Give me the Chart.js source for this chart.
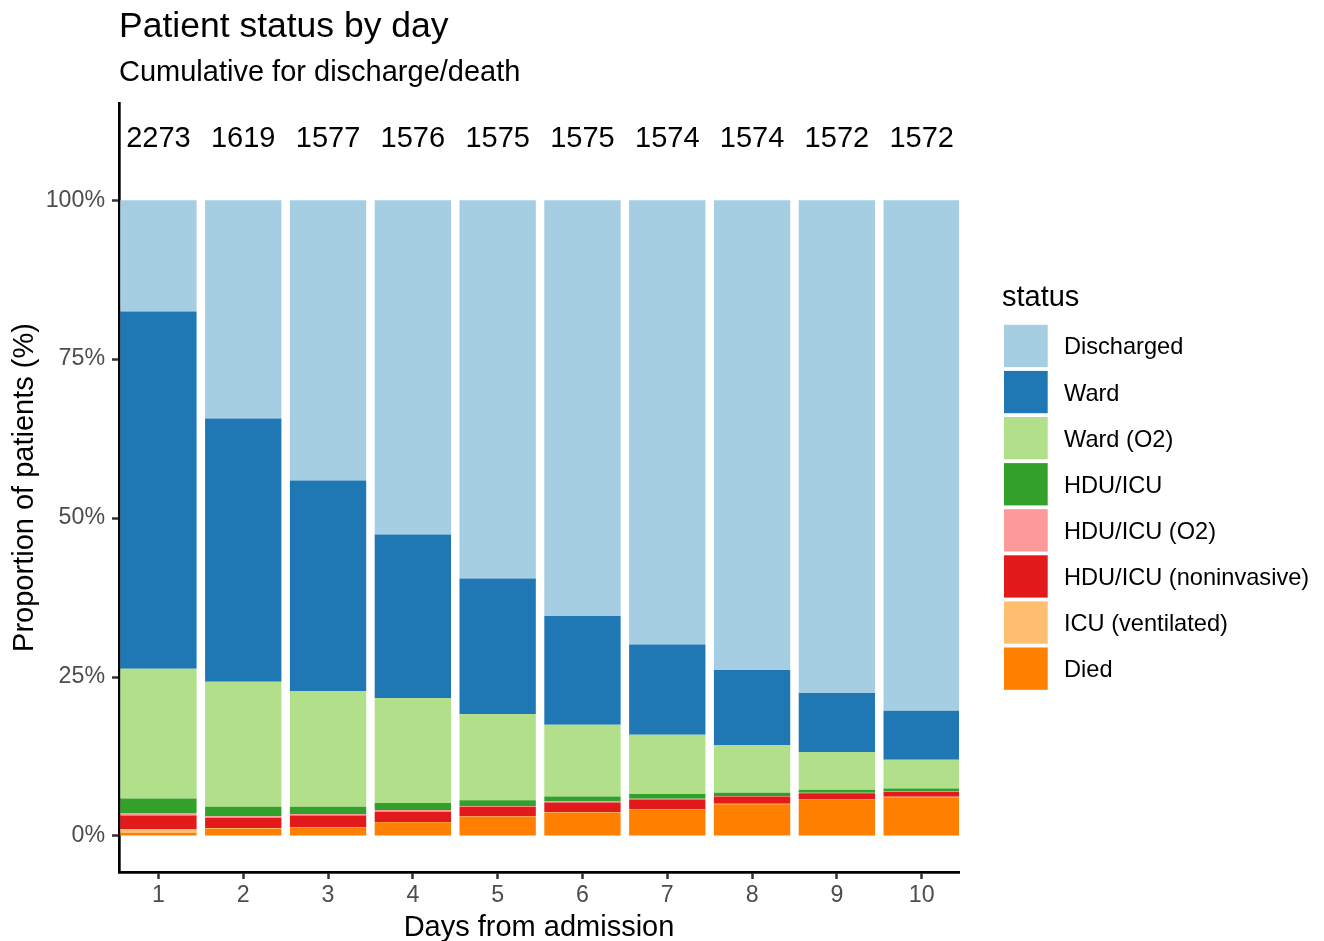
<!DOCTYPE html>
<html>
<head>
<meta charset="utf-8">
<script src="https://cdn.jsdelivr.net/npm/chart.js@4"></script>
<style>
  html, body { margin: 0; padding: 0; background: #ffffff; }
  #wrap { width: 1324px; height: 941px; position: relative; }
</style>
</head>
<body>
<div id="wrap"><canvas id="c" width="1324" height="941"></canvas></div>
<script>
// ---- data (percent of patients) ----
const days = [1, 2, 3, 4, 5, 6, 7, 8, 9, 10];
const counts = [2273, 1619, 1577, 1576, 1575, 1575, 1574, 1574, 1572, 1572];
const yTicks = [0, 25, 50, 75, 100];

const died          = [0.5, 1.15, 1.35, 2.15, 3.05, 3.7, 4.2, 5.0, 5.7, 6.1];
const icuVentilated = [0.6, 0.1, 0.05, 0.05, 0.05, 0.05, 0.05, 0.05, 0.05, 0.05];
const hduNoninv     = [2.1, 1.6, 1.8, 1.6, 1.5, 1.5, 1.5, 1.15, 0.95, 0.8];
const hduO2         = [0.4, 0.25, 0.25, 0.3, 0.1, 0.15, 0.1, 0.1, 0.1, 0.1];
const hduIcu        = [2.3, 1.5, 1.15, 1.1, 0.9, 0.8, 0.75, 0.5, 0.45, 0.4];
const wardO2        = [20.4, 19.65, 18.2, 16.5, 13.6, 11.3, 9.3, 7.5, 5.95, 4.55];
const ward          = [56.2, 41.4, 33.1, 25.7, 21.3, 17.1, 14.2, 11.8, 9.3, 7.7];
const discharged    = [17.5, 34.35, 44.1, 52.6, 59.5, 65.4, 69.9, 73.9, 77.5, 80.3];

// legend order (top to bottom)
const statusLabels = ['Discharged', 'Ward', 'Ward (O2)', 'HDU/ICU', 'HDU/ICU (O2)', 'HDU/ICU (noninvasive)', 'ICU (ventilated)', 'Died'];
const statusValues = [discharged, ward, wardO2, hduIcu, hduO2, hduNoninv, icuVentilated, died];
const statusColors = ['#A6CEE3', '#1F78B4', '#B2DF8A', '#33A02C', '#FB9A99', '#E31A1C', '#FDBF6F', '#FF7F00'];

const FONT = "'Liberation Sans', Arial, Helvetica, sans-serif";
Chart.defaults.font.family = FONT;

// stacked bottom-up: Died first
const datasets = [];
for (let i = statusLabels.length - 1; i >= 0; i--) {
  datasets.push({
    label: statusLabels[i],
    data: days.map((d, j) => ({ x: d, y: statusValues[i][j] })),
    backgroundColor: statusColors[i],
    borderWidth: 0,
    categoryPercentage: 1.0,
    barPercentage: 0.9
  });
}

const decor = {
  id: 'decor',
  afterDraw(chart) {
    const ctx = chart.ctx;
    const xs = chart.scales.x, ys = chart.scales.y, ca = chart.chartArea;
    ctx.save();
    ctx.fillStyle = '#000';
    ctx.textAlign = 'left';
    ctx.textBaseline = 'alphabetic';
    ctx.font = '35.5px ' + FONT;
    ctx.fillText('Patient status by day', 119, 37);
    ctx.font = '29px ' + FONT;
    ctx.fillText('Cumulative for discharge/death', 119, 81);

    // counts above bars
    ctx.textAlign = 'center';
    ctx.font = '29px ' + FONT;
    days.forEach((d, i) => {
      ctx.fillText(String(counts[i]), xs.getPixelForValue(d), ys.getPixelForValue(108.3));
    });

    // axis titles
    ctx.font = '29px ' + FONT;
    ctx.fillText('Days from admission', (ca.left + ca.right) / 2, 936);
    ctx.save();
    ctx.translate(33, (ca.top + ca.bottom) / 2);
    ctx.rotate(-Math.PI / 2);
    ctx.fillText('Proportion of patients (%)', 0, 0);
    ctx.restore();

    // legend
    ctx.textAlign = 'left';
    ctx.font = '29px ' + FONT;
    ctx.fillText('status', 1002, 306);
    ctx.font = '23.6px ' + FONT;
    statusLabels.forEach((lab, i) => {
      const top = 324.8 + i * 46.1;
      ctx.fillStyle = statusColors[i];
      ctx.fillRect(1004, top, 43.7, 42.3);
      ctx.fillStyle = '#000';
      ctx.fillText(lab, 1064, top + 21.15 + 8.5);
    });
    ctx.restore();
  }
};

new Chart(document.getElementById('c'), {
  type: 'bar',
  data: { datasets },
  options: {
    responsive: false,
    devicePixelRatio: 1,
    animation: false,
    layout: { padding: { left: 0, top: 103, right: 365, bottom: 0 } },
    plugins: { legend: { display: false }, tooltip: { enabled: false }, title: { display: false } },
    scales: {
      x: {
        type: 'linear',
        stacked: true,
        offset: false,
        min: 0.535,
        max: 10.44,
        afterFit(s) { s.height = 69; },
        afterBuildTicks(s) { s.ticks = days.map(v => ({ value: v })); },
        grid: { display: true, offset: false, drawOnChartArea: false, drawTicks: true, tickLength: 7, tickWidth: 2.5, tickColor: '#333333' },
        border: { display: true, color: '#000000', width: 2.7 },
        ticks: { color: '#4d4d4d', font: { size: 23.2 }, padding: 3, maxRotation: 0, autoSkip: false, callback: v => String(v) }
      },
      y: {
        type: 'linear',
        stacked: true,
        min: -5.67,
        max: 115.28,
        afterFit(s) { s.width = 119; },
        afterBuildTicks(s) { s.ticks = yTicks.map(v => ({ value: v })); },
        grid: { display: true, drawOnChartArea: false, drawTicks: true, tickLength: 7, tickWidth: 2.5, tickColor: '#333333' },
        border: { display: true, color: '#000000', width: 2.7 },
        ticks: { color: '#4d4d4d', font: { size: 23.2 }, padding: 7, autoSkip: false, callback: v => v + '%' }
      }
    }
  },
  plugins: [decor]
});
</script>
</body>
</html>
